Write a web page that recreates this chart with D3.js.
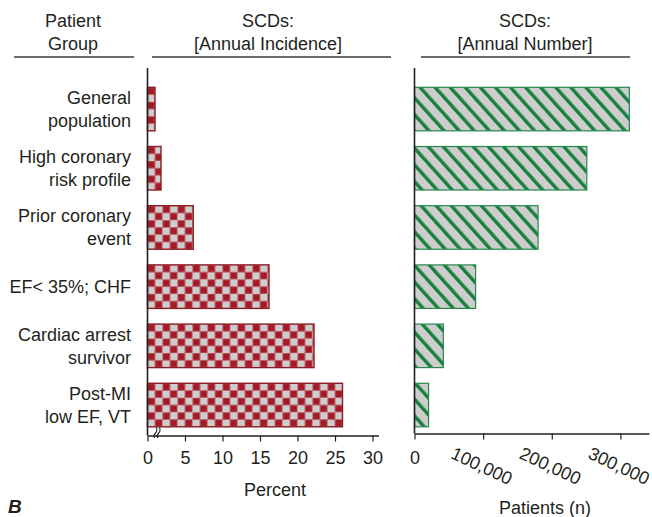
<!DOCTYPE html>
<html>
<head>
<meta charset="utf-8">
<script src="https://cdn.jsdelivr.net/npm/d3@7"></script>
<style>
  body { margin: 0; background: #fff; }
  text { font-family: "Liberation Sans", Arial, Helvetica, sans-serif; fill: #231f20; }
</style>
</head>
<body>
<svg id="chart" width="652" height="517"></svg>
<script>
// Patient groups (each entry is the label split into its printed lines)
const groupLines = [
  ["General", "population"],
  ["High coronary", "risk profile"],
  ["Prior coronary", "event"],
  ["EF< 35%; CHF"],
  ["Cardiac arrest", "survivor"],
  ["Post-MI", "low EF, VT"]
];
const groups = groupLines.map(l => l.join(" "));

// Sudden cardiac deaths: annual incidence (%) and annual number of patients
const annualIncidence = [1, 1.8, 6.1, 16.2, 22.2, 26];
const annualNumber = [313000, 251000, 180000, 89000, 42000, 20500];

// Axis ticks
const incidenceTicks = [0, 5, 10, 15, 20, 25, 30];
const numberTicks = [0, 100000, 200000, 300000];

// Column headers
const headerGroup = ["Patient", "Group"];
const headerIncidence = ["SCDs:", "[Annual Incidence]"];
const headerNumber = ["SCDs:", "[Annual Number]"];

const svg = d3.select("#chart");
const defs = svg.append("defs");
const FONT = 18;
const ink = "#231f20";

// Shared vertical band scale for both panels
const y = d3.scaleBand().domain(groups).range([80.2, 433.9])
  .paddingInner(0.265).paddingOuter(0.12);

// Left panel: percent
const xInc = d3.scaleLinear().domain([0, 30.8]).range([147.5, 378.5]);
const incAxisY = 435.5;
// Right panel: patients
const xNum = d3.scaleLinear().domain([0, 341600]).range([414.5, 649]);
const numAxisY = 433.5;

// ---- Headers ----
function header(lines, cx, x0, x1) {
  const g = svg.append("g");
  g.selectAll("text").data(lines).join("text")
    .attr("x", cx).attr("y", (d, i) => 26.5 + i * 23)
    .attr("text-anchor", "middle").attr("font-size", FONT).text(d => d);
  g.append("line").attr("x1", x0).attr("x2", x1).attr("y1", 57).attr("y2", 57)
    .attr("stroke", "#3a3a3a").attr("stroke-width", 1.5);
}
header(headerGroup, 73, 14, 134);
header(headerIncidence, 268, 152, 391);
header(headerNumber, 525, 421, 630);

// ---- Patterns ----
// Red / grey checkerboard, one per bar so each starts at the bar's corner
const cw = 7.5, ch = 7.25;
const chk = defs.selectAll("pattern.chk").data(groups).join("pattern")
  .attr("class", "chk")
  .attr("id", (d, i) => "chk" + i)
  .attr("patternUnits", "userSpaceOnUse")
  .attr("x", xInc(0)).attr("y", d => y(d))
  .attr("width", 2 * cw).attr("height", 2 * ch);
chk.append("rect").attr("width", 2 * cw).attr("height", 2 * ch).attr("fill", "#cdcdcd");
[[0, 0], [cw, ch]].forEach(([px, py]) => {
  chk.append("rect").attr("x", px).attr("y", py)
    .attr("width", cw).attr("height", ch)
    .attr("fill", "#a31a26");
  chk.append("rect").attr("x", px + 0.3).attr("y", py + 0.3)
    .attr("width", cw - 0.6).attr("height", ch - 0.6)
    .attr("fill", "none").attr("stroke", "#c05a64").attr("stroke-width", 0.6);
});

// Green diagonal hatch on grey
const hatchW = 11.2;
const hatch = defs.append("pattern").attr("id", "hatch")
  .attr("patternUnits", "userSpaceOnUse")
  .attr("width", hatchW).attr("height", 20)
  .attr("patternTransform", "translate(414.5,0) rotate(-42)");
hatch.append("rect").attr("width", hatchW).attr("height", 20).attr("fill", "#cdcdcd");
hatch.append("rect").attr("x", 0).attr("width", 3.4).attr("height", 20).attr("fill", "#17803e");

// ---- Left panel bars ----
svg.append("g").selectAll("rect").data(annualIncidence).join("rect")
  .attr("x", xInc(0))
  .attr("y", (d, i) => y(groups[i]))
  .attr("width", d => xInc(d) - xInc(0))
  .attr("height", y.bandwidth())
  .attr("fill", (d, i) => `url(#chk${i})`)
  .attr("stroke", "#8e1a22").attr("stroke-width", 1.4);

// ---- Right panel bars ----
svg.append("g").selectAll("rect").data(annualNumber).join("rect")
  .attr("x", xNum(0))
  .attr("y", (d, i) => y(groups[i]))
  .attr("width", d => xNum(d) - xNum(0))
  .attr("height", y.bandwidth())
  .attr("fill", "url(#hatch)")
  .attr("stroke", "#24894a").attr("stroke-width", 1.2);

// ---- Category labels ----
const lab = svg.append("g").selectAll("g").data(groupLines).join("g")
  .attr("transform", (d, i) => `translate(131,${y(groups[i]) + y.bandwidth() / 2})`);
lab.selectAll("text").data(d => d.map((t, j) => ({ t, j, n: d.length }))).join("text")
  .attr("text-anchor", "end").attr("font-size", FONT)
  .attr("y", d => d.n === 1 ? 6.5 : (d.j === 0 ? -5 : 18))
  .text(d => d.t);

// ---- Vertical axis lines ----
svg.append("line").attr("x1", xInc(0)).attr("x2", xInc(0))
  .attr("y1", 68).attr("y2", incAxisY)
  .attr("stroke", ink).attr("stroke-width", 1.6);
svg.append("line").attr("x1", xNum(0)).attr("x2", xNum(0))
  .attr("y1", 68).attr("y2", numAxisY)
  .attr("stroke", ink).attr("stroke-width", 1.6);

// ---- Bottom axes ----
const incAxis = svg.append("g").attr("transform", `translate(0,${incAxisY})`)
  .call(d3.axisBottom(xInc).tickValues(incidenceTicks).tickSize(6).tickSizeOuter(0));
const numAxis = svg.append("g").attr("transform", `translate(0,${numAxisY})`)
  .call(d3.axisBottom(xNum).tickValues(numberTicks).tickSize(6).tickSizeOuter(0)
    .tickFormat(d3.format(",")));
[incAxis, numAxis].forEach(a => {
  a.select(".domain").attr("stroke", ink).attr("stroke-width", 1.4);
  a.selectAll(".tick line").attr("stroke", ink).attr("stroke-width", 1.2);
  a.selectAll(".tick text").attr("font-size", FONT).attr("fill", ink)
    .attr("font-family", '"Liberation Sans", Arial, sans-serif');
});
incAxis.selectAll(".tick text").attr("dy", null).attr("y", 464 - incAxisY);
numAxis.selectAll(".tick text")
  .attr("dy", null)
  .attr("y", 0)
  .attr("dominant-baseline", "central")
  .attr("transform", d => d === 0
    ? `translate(0,${458 - numAxisY})`
    : `translate(-2,${466 - numAxisY}) rotate(25)`);

// Axis break mark on the percent scale
const bx = xInc(0) + 7;
svg.append("g").selectAll("path").data([0, 3.2]).join("path")
  .attr("d", d => `M${bx + d},438 q-1.2,-3 1,-5 q2.2,-2 0.8,-5.5`)
  .attr("fill", "none").attr("stroke", ink).attr("stroke-width", 1.1);

// ---- Axis titles ----
svg.append("text").attr("x", 275).attr("y", 496).attr("text-anchor", "middle")
  .attr("font-size", FONT).text("Percent");
svg.append("text").attr("x", 545).attr("y", 514).attr("text-anchor", "middle")
  .attr("font-size", FONT).text("Patients (n)");

// Panel letter
svg.append("text").attr("x", 8).attr("y", 513).attr("font-size", 19)
  .attr("font-weight", "bold").attr("font-style", "italic").text("B");
</script>
</body>
</html>
